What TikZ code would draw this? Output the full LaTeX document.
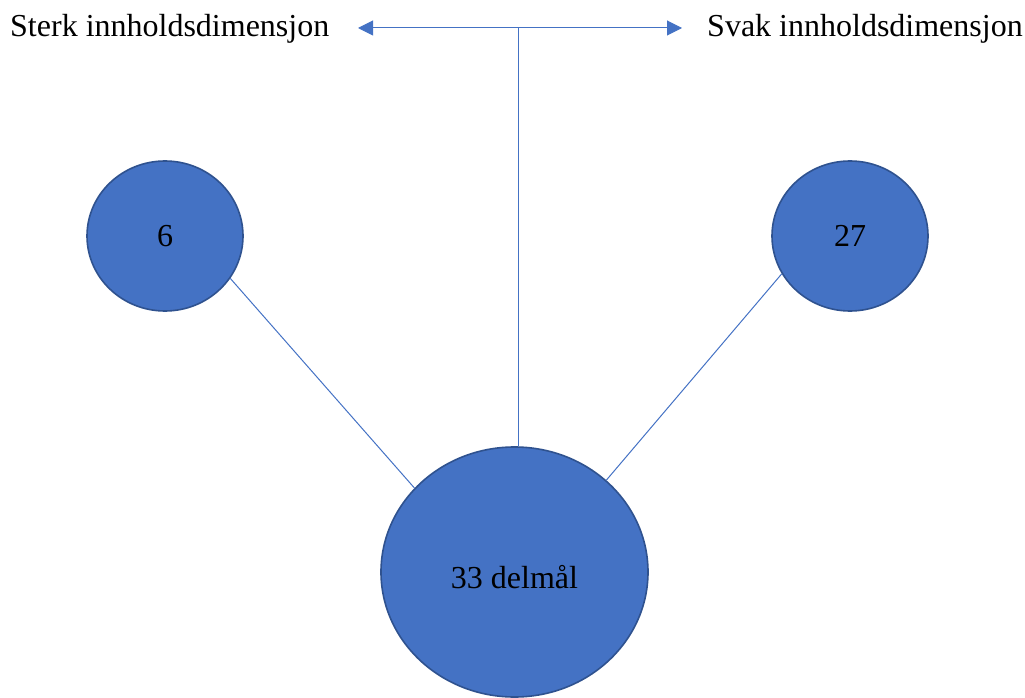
\documentclass[tikz,border=0pt]{standalone}
\usepackage{fontspec}
\setmainfont{Liberation Serif}
\usetikzlibrary{arrows.meta,shapes.geometric}
\definecolor{fillblue}{HTML}{4472C4}
\definecolor{edgeblue}{HTML}{2F528F}
\begin{document}
\begin{tikzpicture}[x=1pt,y=1pt,
  bubble/.style={ellipse,draw=edgeblue,fill=fillblue,line width=1.6pt,inner sep=0pt,
    font=\fontsize{32}{38}\selectfont},
  link/.style={draw=fillblue,line width=1pt},
  dimtext/.style={inner sep=0pt,font=\fontsize{32}{38}\selectfont},
  tip/.style={-{Triangle[length=15pt,width=15pt]}}
]
\useasboundingbox (0,0) rectangle (1025,697);
% circles
\node[bubble,minimum width=156pt,minimum height=150pt] (strong) at (165,461) {6};
\node[bubble,minimum width=156pt,minimum height=150pt] (weak) at (850,461) {27};
\node[bubble,minimum width=267pt,minimum height=250pt] (total) at (514.5,125) {};
\node[font=\fontsize{32}{38}\selectfont] (totaltext) at (514.5,120) {33 delmål};
% axis labels
\node[dimtext,anchor=west] (sterk) at (10,668) {Sterk innholdsdimensjon};
\node[dimtext,anchor=west] (svak) at (707,668) {Svak innholdsdimensjon};
% axis
\coordinate (mid) at (518,669);
\coordinate (lefttip) at (358,669);
\coordinate (righttip) at (682,669);
\draw[link,tip] (mid) -- (lefttip);
\draw[link,tip] (mid) -- (righttip);
\draw[link] (mid) -- (mid |- total.north);
% connectors
\draw[link] (strong.-33) -- (total.140);
\draw[link] (weak.-151) -- (total.45);
\end{tikzpicture}
\end{document}
